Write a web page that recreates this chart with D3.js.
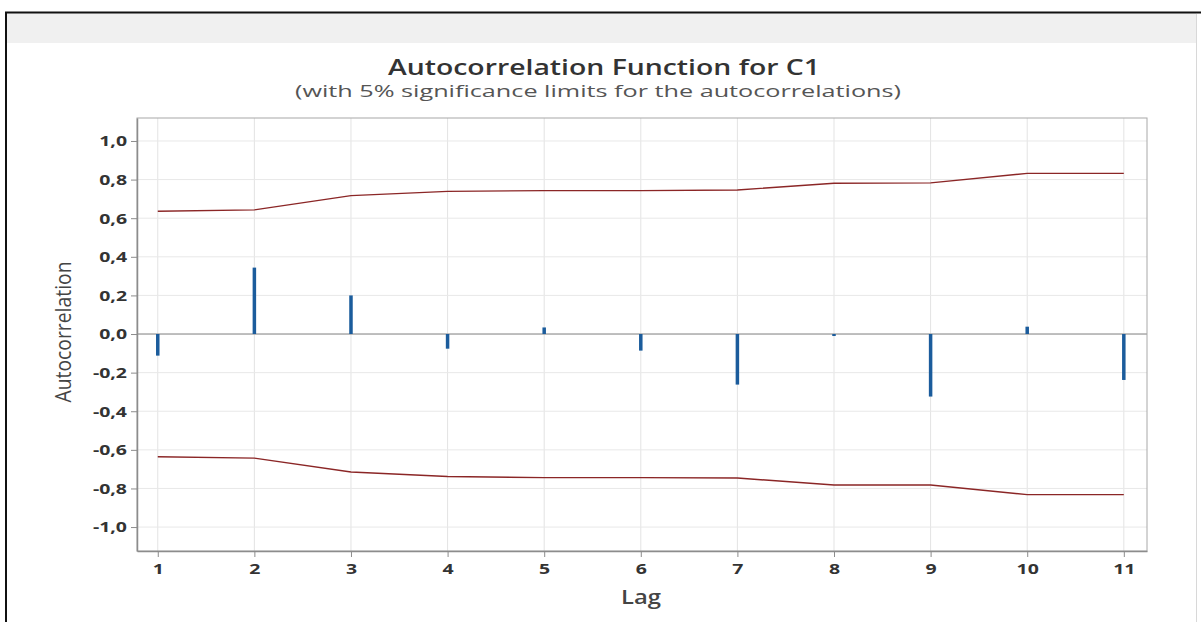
<!DOCTYPE html>
<html>
<head>
<meta charset="utf-8">
<script src="https://cdn.jsdelivr.net/npm/d3@7"></script>
<style>
  body { margin: 0; background: #fff; }
  text { font-family: "Open Sans", "Noto Sans", sans-serif; }
</style>
</head>
<body>
<div id="chart"></div>
<script>
// ACF values
let lags = [1, 2, 3, 4, 5, 6, 7, 8, 9, 10, 11];
let acf = [-0.112, 0.344, 0.200, -0.076, 0.034, -0.086, -0.262, -0.009, -0.324, 0.038, -0.238];
let upperLimit = [0.636, 0.643, 0.717, 0.739, 0.743, 0.743, 0.746, 0.781, 0.783, 0.832, 0.832];
let lowerLimit = [-0.636, -0.643, -0.715, -0.738, -0.744, -0.744, -0.746, -0.782, -0.782, -0.832, -0.832];
let yTicks = [-1.0, -0.8, -0.6, -0.4, -0.2, 0.0, 0.2, 0.4, 0.6, 0.8, 1.0];

let width = 1201;
let height = 622;
let margin = {top: 118, right: 54, bottom: 71, left: 137};

let svg = d3.select("#chart").append("svg")
  .attr("width", width)
  .attr("height", height);

// window frame + grey band
svg.append("rect").attr("x", 7).attr("y", 13).attr("width", 1189).attr("height", 30).attr("fill", "#f0f0f0");
svg.append("path")
  .attr("d", "M6,622V12.5H1201")
  .attr("fill", "none").attr("stroke", "#111").attr("stroke-width", 2);
svg.append("path")
  .attr("d", "M1196.5,14V622")
  .attr("fill", "none").attr("stroke", "#d8d8d8").attr("stroke-width", 1);

let x = d3.scaleLinear()
  .domain([0.785, 11.24])
  .range([margin.left, width - margin.right]);

let y = d3.scaleLinear()
  .domain([-1.124, 1.119])
  .range([height - margin.bottom, margin.top]);

let locale = d3.formatLocale({decimal: ",", thousands: ".", grouping: [3], currency: ["", ""], minus: "-"});
let fmt = locale.format(".1f");

// gridlines
let grid = svg.append("g");
grid.selectAll(".vg").data(lags).enter().append("line")
  .attr("x1", d => x(d)).attr("x2", d => x(d))
  .attr("y1", margin.top).attr("y2", height - margin.bottom)
  .attr("stroke", "#e3e3e3");
grid.selectAll(".hg").data(yTicks).enter().append("line")
  .attr("x1", margin.left).attr("x2", width - margin.right)
  .attr("y1", d => y(d)).attr("y2", d => y(d))
  .attr("stroke", "#e8e8e8");

// zero reference line
svg.append("line")
  .attr("x1", margin.left).attr("x2", width - margin.right)
  .attr("y1", y(0)).attr("y2", y(0))
  .attr("stroke", "#8a8a8a").attr("stroke-width", 1);

// significance limits
let line = d3.line().x((d, i) => x(lags[i])).y(d => y(d));
[upperLimit, lowerLimit].forEach(arr => {
  svg.append("path")
    .datum(arr)
    .attr("d", line)
    .attr("fill", "none")
    .attr("stroke", "#8b2626")
    .attr("stroke-width", 1.4);
});

// acf bars
svg.append("g").selectAll("rect")
  .data(acf)
  .enter()
  .append("rect")
  .attr("x", (d, i) => x(lags[i]) - 1.75)
  .attr("width", 3.5)
  .attr("y", d => y(Math.max(0, d)))
  .attr("height", d => Math.max(2, Math.abs(y(d) - y(0))))
  .attr("fill", "#1b5c9c");

// frame
svg.append("rect")
  .attr("x", margin.left).attr("y", margin.top)
  .attr("width", width - margin.left - margin.right)
  .attr("height", height - margin.top - margin.bottom)
  .attr("fill", "none").attr("stroke", "#a8a8a8");

// axes
let yAxis = svg.append("g")
  .attr("transform", "translate(" + margin.left + ",0)")
  .call(d3.axisLeft(y).tickValues(yTicks).tickFormat(fmt).tickSize(6).tickSizeOuter(0));
let xAxis = svg.append("g")
  .attr("transform", "translate(0," + (height - margin.bottom) + ")")
  .call(d3.axisBottom(x).tickValues(lags).tickFormat(d3.format("d")).tickSize(6).tickSizeOuter(0));

// tick labels in the picture are drawn a bit wide, so stretch them sideways
let stretch = 1.3;
[yAxis, xAxis].forEach(a => {
  a.select(".domain").attr("stroke", "#8c8c8c").attr("stroke-width", 1.5);
  a.selectAll(".tick line").attr("stroke", "#8c8c8c");
  a.selectAll(".tick text")
    .attr("fill", "#333")
    .attr("transform", "scale(" + stretch + ",1)")
    .style("font-size", "15px")
    .style("font-weight", "700");
});
yAxis.selectAll(".tick text").attr("x", -10 / stretch);
xAxis.selectAll(".tick text").attr("y", 12);

// titles
svg.append("text")
  .attr("x", 604).attr("y", 75)
  .attr("text-anchor", "middle")
  .attr("fill", "#333")
  .attr("textLength", 432).attr("lengthAdjust", "spacingAndGlyphs")
  .style("font-size", "22px").style("font-weight", "600")
  .text("Autocorrelation Function for C1");
svg.append("text")
  .attr("x", 598).attr("y", 97)
  .attr("text-anchor", "middle")
  .attr("fill", "#555")
  .attr("textLength", 606).attr("lengthAdjust", "spacingAndGlyphs")
  .style("font-size", "16px")
  .text("(with 5% significance limits for the autocorrelations)");

svg.append("text")
  .attr("x", 641).attr("y", 604)
  .attr("text-anchor", "middle")
  .attr("fill", "#444")
  .attr("textLength", 40).attr("lengthAdjust", "spacingAndGlyphs")
  .style("font-size", "19px").style("font-weight", "600")
  .text("Lag");

svg.append("text")
  .attr("transform", "translate(71,332) rotate(-90)")
  .attr("text-anchor", "middle")
  .attr("fill", "#444")
  .attr("textLength", 141).attr("lengthAdjust", "spacingAndGlyphs")
  .style("font-size", "21px")
  .text("Autocorrelation");
</script>
</body>
</html>
